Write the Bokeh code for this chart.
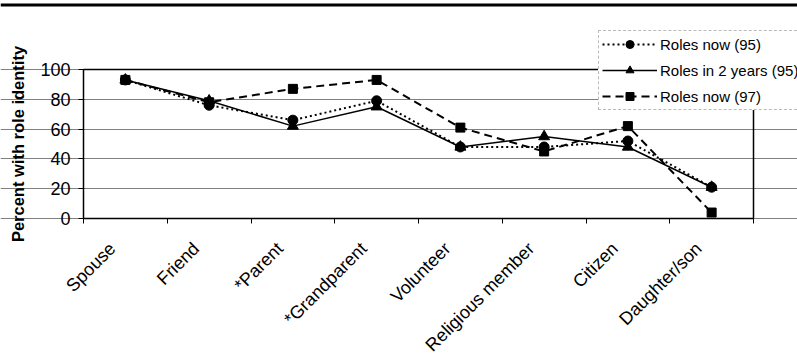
import math
from bokeh.plotting import figure
from bokeh.models import Range1d, FixedTicker, Legend, Label, LinearAxis, Span
from bokeh.embed import file_html
from bokeh.resources import INLINE

categories = ["Spouse", "Friend", "*Parent", "*Grandparent", "Volunteer",
              "Religious member", "Citizen", "Daughter/son"]
roles_now_95 = [93, 76, 66, 79, 48, 48, 52, 21]
roles_2yrs_95 = [93, 79, 62, 75, 48, 55, 48, 21]
roles_now_97 = [93, 78, 87, 93, 61, 45, 62, 4]
y_ticks = [0, 20, 40, 60, 80, 100]

FONT = "Liberation Sans"
W, H = 797, 364
# plot-area placement on the page (pixels)
PL, PR, PT, PB = 83, 753, 69, 218

n = len(categories)
xs = [i + 0.5 for i in range(n)]
Y0, Y1 = 0, 100

sx = (PR - PL) / n
sy = (PB - PT) / (Y1 - Y0)
x_range = Range1d(-PL / sx, n + (W - PR) / sx)
y_range = Range1d(Y0 - (H - PB) / sy, Y1 + PT / sy)

p = figure(width=W, height=H, toolbar_location=None, output_backend="svg",
           x_range=x_range, y_range=y_range, min_border=0,
           x_axis_location=None, y_axis_location=None,
           background_fill_color="white", border_fill_color="white",
           outline_line_color=None)

# top rule
p.add_layout(Span(location=Y1 + (PT - 4.5) / sy, dimension="width",
                  line_color="black", line_width=3))

# gridlines
p.xgrid.visible = False
p.ygrid.ticker = FixedTicker(ticks=y_ticks)
p.ygrid.bounds = (0, n)
p.ygrid.grid_line_color = "#808080"
p.ygrid.grid_line_width = 1

# x axis (ticks at category boundaries)
xax = LinearAxis(fixed_location=Y0, bounds=(0, n),
                 ticker=FixedTicker(ticks=xs, minor_ticks=list(range(n + 1))),
                 major_label_text_alpha=0, major_label_text_font_size="1px",
                 major_tick_out=0, major_tick_in=0,
                 minor_tick_out=5, minor_tick_in=0, minor_tick_line_color="black",
                 axis_line_color="black", axis_line_width=1.5)
p.add_layout(xax, "below")

# top and right borders of plot area
top_ax = LinearAxis(fixed_location=Y1, bounds=(0, n), ticker=FixedTicker(ticks=[]),
                    major_label_text_alpha=0, major_tick_line_color=None,
                    minor_tick_line_color=None, axis_line_color="black",
                    axis_line_width=1.5)
p.add_layout(top_ax, "above")
right_ax = LinearAxis(fixed_location=n, bounds=(Y0, Y1), ticker=FixedTicker(ticks=[]),
                      major_label_text_alpha=0, major_tick_line_color=None,
                      minor_tick_line_color=None, axis_line_color="black",
                      axis_line_width=1.5)
p.add_layout(right_ax, "right")

# y axis
yax = LinearAxis(fixed_location=0, bounds=(Y0, Y1),
                 ticker=FixedTicker(ticks=y_ticks),
                 major_label_text_font=FONT, major_label_text_font_size="18px",
                 major_label_text_color="black", major_label_standoff=8,
                 major_tick_out=5, major_tick_in=0, major_tick_line_color="black",
                 minor_tick_line_color=None, axis_line_color="black",
                 axis_line_width=1.5,
                 axis_label="Percent with role identity", axis_label_text_font=FONT,
                 axis_label_text_font_style="bold", axis_label_text_font_size="16.5px",
                 axis_label_text_color="black", axis_label_standoff=10)
p.add_layout(yax, "left")

# category labels
for x, c in zip(xs, categories):
    p.add_layout(Label(x=x, y=Y0 - 20 / sy, text=c, angle=math.pi / 4,
                       x_offset=-20, text_align="right", text_baseline="top",
                       text_font=FONT, text_font_size="18px",
                       text_color="black"))

l1 = p.line(xs, roles_now_95, line_color="black", line_width=2, line_dash="2 3")
m1 = p.scatter(xs, roles_now_95, marker="circle", size=10, color="black")
l2 = p.line(xs, roles_2yrs_95, line_color="black", line_width=1.5)
m2 = p.scatter(xs, roles_2yrs_95, marker="triangle", size=11, color="black")
l3 = p.line(xs, roles_now_97, line_color="black", line_width=2, line_dash="8 5")
m3 = p.scatter(xs, roles_now_97, marker="square", size=9, color="black")

legend = Legend(items=[("Roles now (95)", [l1, m1]),
                       ("Roles in 2 years (95)", [l2, m2]),
                       ("Roles now (97)", [l3, m3])],
                location=(598, H - 110), margin=0, padding=3, spacing=6,
                glyph_width=55, glyph_height=20, label_height=20,
                label_standoff=3, label_text_font=FONT,
                label_text_font_size="15px", label_text_color="black",
                border_line_color="#777777", border_line_dash="1 1",
                border_line_width=1, background_fill_color="white",
                background_fill_alpha=1.0)
p.add_layout(legend, "center")

open("out.html", "w").write(file_html(p, INLINE))
